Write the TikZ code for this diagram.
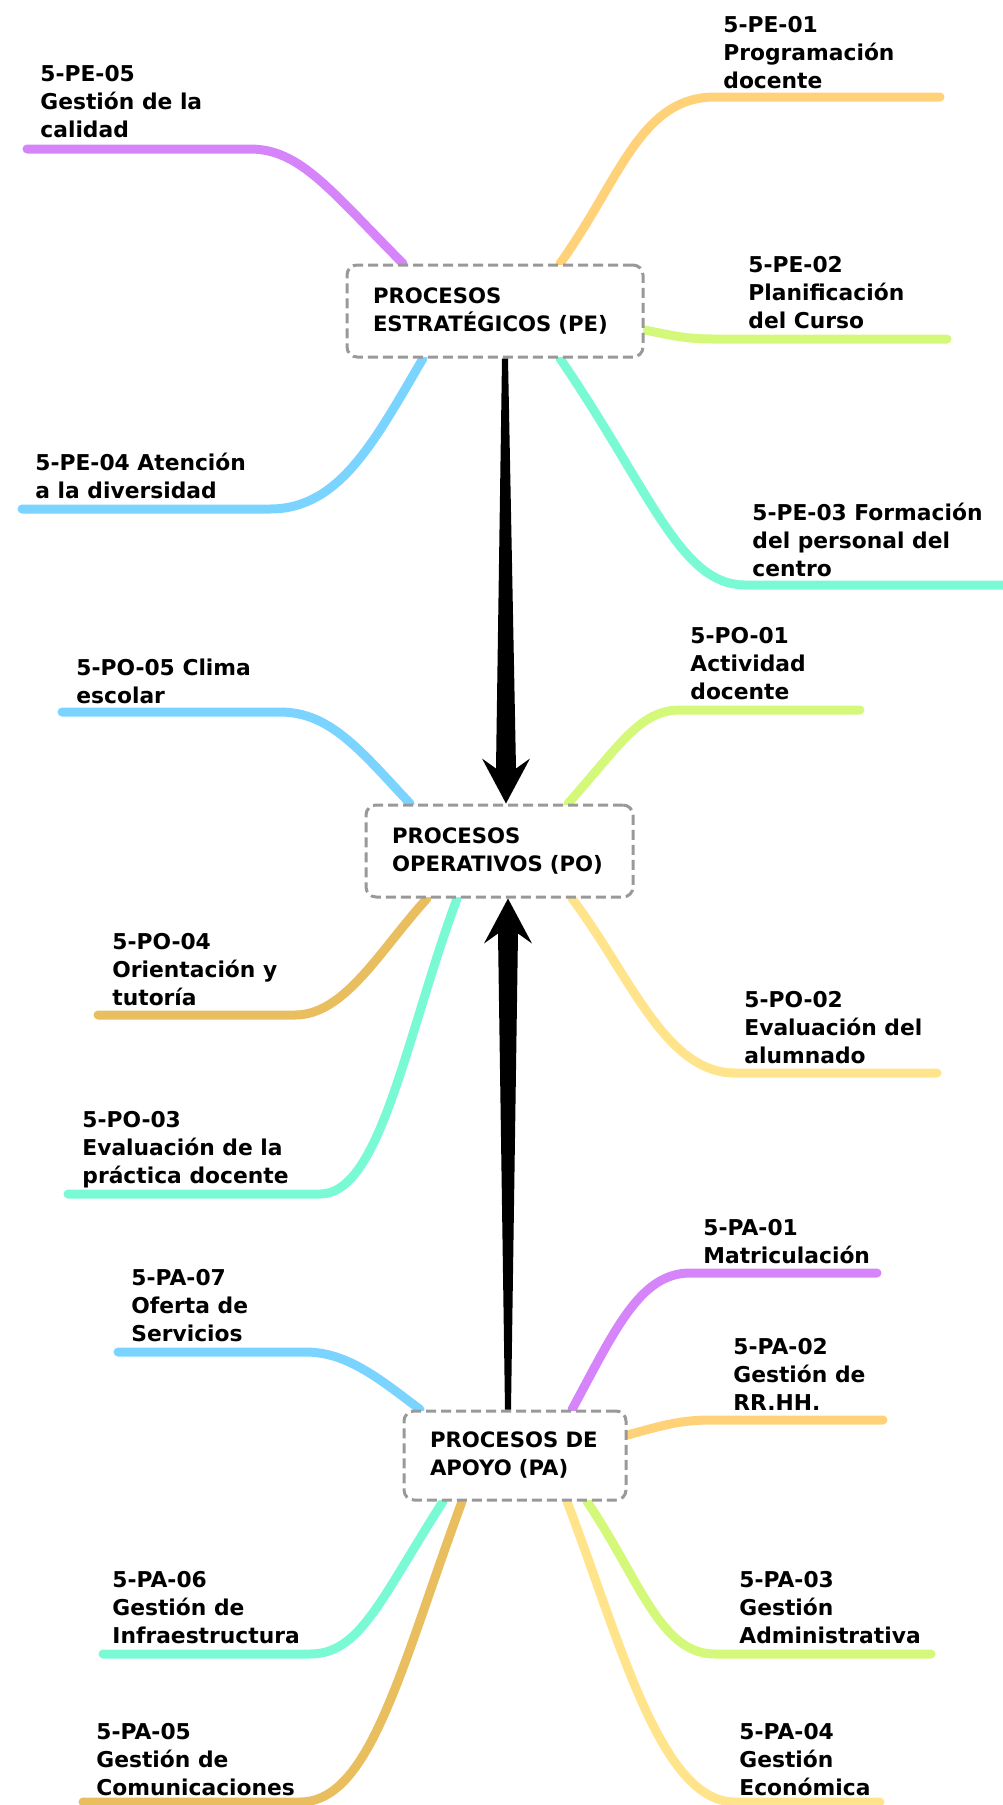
\documentclass[tikz,border=0pt]{standalone}
\usepackage{fontspec}
\setmainfont{DejaVu Sans}
\usetikzlibrary{calc,backgrounds}
\definecolor{lila}{RGB}{214,132,250}
\definecolor{naranja}{RGB}{255,210,122}
\definecolor{lima}{RGB}{212,249,122}
\definecolor{agua}{RGB}{122,250,212}
\definecolor{cielo}{RGB}{122,212,255}
\definecolor{ocre}{RGB}{232,190,94}
\definecolor{crema}{RGB}{255,228,140}
\definecolor{borde}{RGB}{153,153,153}

\begin{document}
\begin{tikzpicture}[x=0.5pt,y=0.5pt,
        every node/.style={font=\fontsize{10.9}{14}\selectfont\bfseries},
        proc/.style={draw=borde,line width=1.5pt,dash pattern=on 5pt off 2.5pt,
          rounded corners=5pt,fill=white,align=left,inner xsep=13pt,inner ysep=0pt,
          font=\fontsize{10.6}{14}\selectfont\bfseries},
        lbl/.style={anchor=base west,align=left,inner sep=0pt},
        rama/.style={line width=4.5pt,line cap=round}]
     \useasboundingbox (0,0) rectangle (1002,-1805);

     \node[proc,text width=122pt,minimum height=46pt] (pe) at (495,-311) {PROCESOS\\ESTRATÉGICOS~(PE)};
     \node[proc,text width=107.5pt,minimum height=46pt] (po) at (499.5,-851) {PROCESOS\\OPERATIVOS~(PO)};
     \node[proc,text width=85pt,minimum height=44.5pt] (pa) at (515,-1455.5) {PROCESOS~DE\\APOYO~(PA)};

     \node[lbl] (pe05) at (40,-137) {5-PE-05\\Gestión de la\\calidad};
     \node[lbl] (pe01) at (723,-88) {5-PE-01\\Programación\\docente};
     \node[lbl] (pe02) at (748,-328) {5-PE-02\\Planificación\\del Curso};
     \node[lbl] (pe03) at (752,-576) {5-PE-03 Formación\\del personal del\\centro};
     \node[lbl] (pe04) at (35,-498) {5-PE-04 Atención\\a la diversidad};
     \node[lbl] (po05) at (76,-703) {5-PO-05 Clima\\escolar};
     \node[lbl] (po04) at (112,-1005) {5-PO-04\\Orientación y\\tutoría};
     \node[lbl] (po03) at (82,-1183) {5-PO-03\\Evaluación de la\\práctica docente};
     \node[lbl] (po01) at (690,-699) {5-PO-01\\Actividad\\docente};
     \node[lbl] (po02) at (744,-1063) {5-PO-02\\Evaluación del\\alumnado};
     \node[lbl] (pa07) at (131,-1341) {5-PA-07\\Oferta de\\Servicios};
     \node[lbl] (pa01) at (703,-1263) {5-PA-01\\Matriculación};
     \node[lbl] (pa02) at (733,-1410) {5-PA-02\\Gestión de\\RR.HH.};
     \node[lbl] (pa03) at (739,-1643) {5-PA-03\\Gestión\\Administrativa};
     \node[lbl] (pa04) at (739,-1795) {5-PA-04\\Gestión\\Económica};
     \node[lbl] (pa06) at (112,-1643) {5-PA-06\\Gestión de\\Infraestructura};
     \node[lbl] (pa05) at (96,-1795) {5-PA-05\\Gestión de\\Comunicaciones};

     \begin{pgfonlayer}{background}
       \draw[rama,lila] ($(pe.north)+(-92,0)$) .. controls (330,-190) and (300,-149) .. (250,-149) -- (27,-149) coordinate (e-pe05);
       \draw[rama,naranja] ($(pe.north)+(65,0)$) .. controls (620,-180) and (640,-97) .. (715,-97) -- (940,-97) coordinate (e-pe01);
       \draw[rama,lima] ($(pe.east)+(0,-19)$) .. controls (670,-335) and (685,-339) .. (713,-339) -- (947,-339) coordinate (e-pe02);
       \draw[rama,agua] ($(pe.south)+(65,0)$) .. controls (650,-490) and (680,-585) .. (745,-585) -- (1010,-585) coordinate (e-pe03);
       \draw[rama,cielo] ($(pe.south)+(-72,0)$) .. controls (375,-440) and (340,-509) .. (270,-509) -- (22,-509) coordinate (e-pe04);

       \draw[rama,cielo] ($(po.north)+(-89.5,0)$) .. controls (360,-750) and (330,-712) .. (280,-712) -- (62,-712) coordinate (e-po05);
       \draw[rama,lima] ($(po.north)+(68.5,0)$) .. controls (620,-745) and (640,-710) .. (680,-710) -- (860,-710) coordinate (e-po01);
       \draw[rama,ocre] ($(po.south)+(-72.5,0)$) .. controls (380,-950) and (345,-1015) .. (295,-1015) -- (98,-1015) coordinate (e-po04);
       \draw[rama,agua] ($(po.south)+(-42.5,0)$) .. controls (405,-1040) and (380,-1194) .. (320,-1194) -- (68,-1194) coordinate (e-po03);
       \draw[rama,crema] ($(po.south)+(72.5,0)$) .. controls (630,-975) and (665,-1073) .. (735,-1073) -- (937,-1073) coordinate (e-po02);

       \draw[rama,cielo] ($(pa.north)+(-95,0)$) .. controls (375,-1375) and (345,-1352) .. (305,-1352) -- (118,-1352) coordinate (e-pa07);
       \draw[rama,lila] ($(pa.north)+(57,0)$) .. controls (615,-1330) and (640,-1273) .. (690,-1273) -- (877,-1273) coordinate (e-pa01);
       \draw[rama,naranja] ($(pa.east)+(0,20.5)$) .. controls (660,-1426) and (680,-1420) .. (710,-1420) -- (883,-1420) coordinate (e-pa02);
       \draw[rama,lima] ($(pa.south)+(72,0)$) .. controls (640,-1580) and (660,-1654) .. (715,-1654) -- (931,-1654) coordinate (e-pa03);
       \draw[rama,crema] ($(pa.south)+(52,0)$) .. controls (620,-1640) and (660,-1802) .. (735,-1802) -- (880,-1802) coordinate (e-pa04);
       \draw[rama,agua] ($(pa.south)+(-72,0)$) .. controls (380,-1600) and (360,-1654) .. (310,-1654) -- (103,-1654) coordinate (e-pa06);
       \draw[rama,ocre] ($(pa.south)+(-53,0)$) .. controls (400,-1670) and (370,-1802) .. (300,-1802) -- (83,-1802) coordinate (e-pa05);
     \end{pgfonlayer}

     \fill ($(pe.south)+(7,0)$) -- ($(po.north)+(-3.5,35)$) -- ($(po.north)+(-17.5,45)$) -- ($(po.north)+(6.5,0)$)
       -- ($(po.north)+(30.5,45)$) -- ($(po.north)+(16.5,35)$) -- ($(pe.south)+(13,0)$) -- cycle;
     \fill ($(pa.north)+(-10,0)$) -- ($(po.south)+(-1.5,-35)$) -- ($(po.south)+(-15.5,-45)$) -- ($(po.south)+(8.5,0)$)
       -- ($(po.south)+(32.5,-45)$) -- ($(po.south)+(18.5,-35)$) -- ($(pa.north)+(-4,0)$) -- cycle;
\end{tikzpicture}
\end{document}
